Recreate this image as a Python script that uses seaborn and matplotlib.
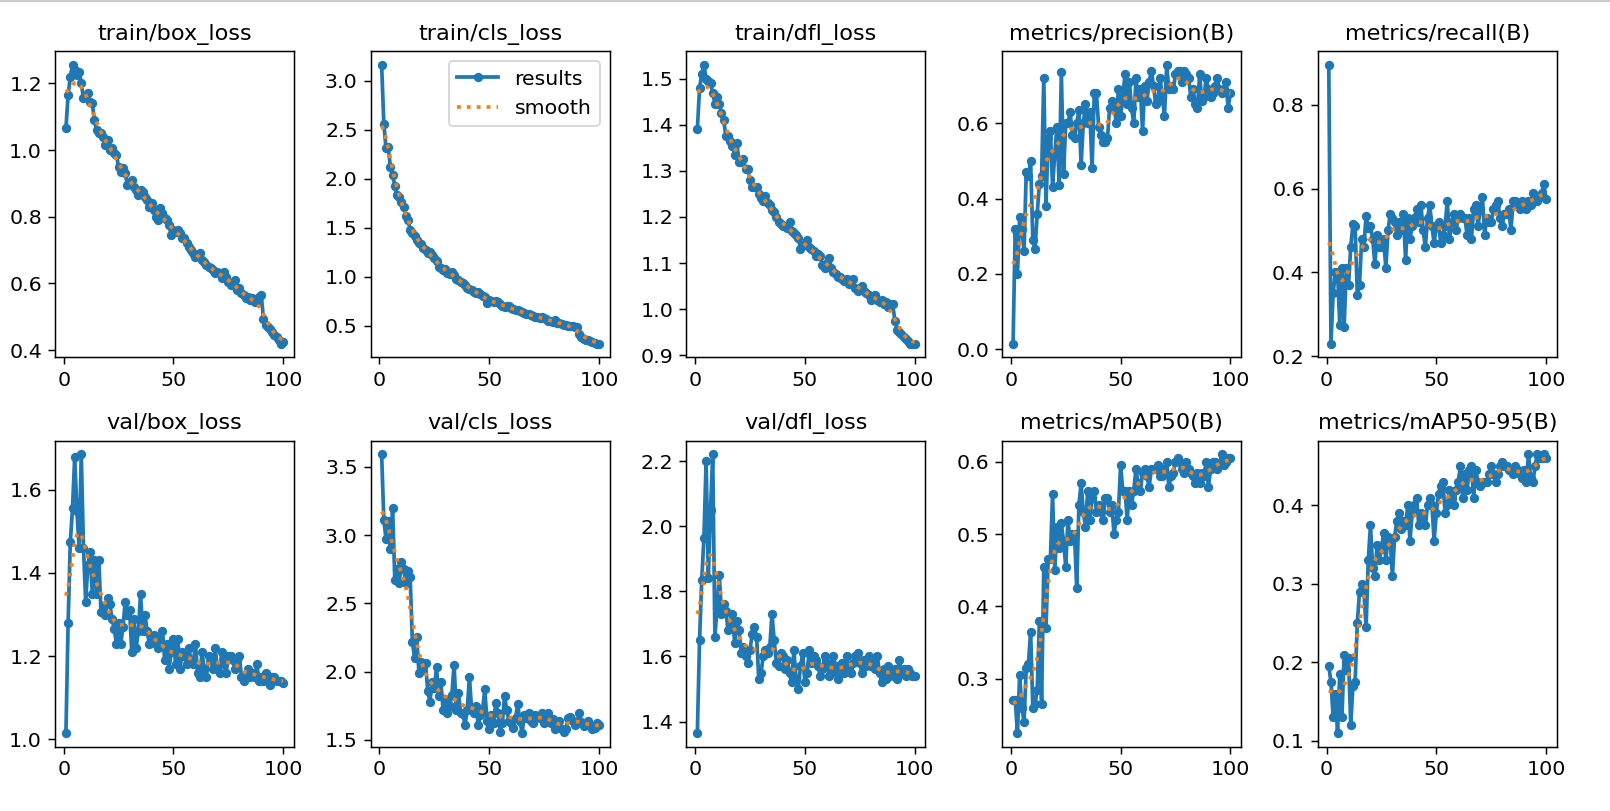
import numpy as np
import pandas as pd
import matplotlib
matplotlib.use("Agg")
import matplotlib.pyplot as plt
from matplotlib.lines import Line2D
import seaborn as sns

plt.rcParams["font.size"] = 11

epochs = list(range(1, 101))

titles = ["train/box_loss", "train/cls_loss", "train/dfl_loss", "metrics/precision(B)", "metrics/recall(B)",
          "val/box_loss", "val/cls_loss", "val/dfl_loss", "metrics/mAP50(B)", "metrics/mAP50-95(B)"]

train_box_loss = [
    1.065, 1.165, 1.22, 1.255, 1.24, 1.225, 1.235, 1.20, 1.155, 1.16,
    1.17, 1.145, 1.14, 1.09, 1.06, 1.05, 1.05, 1.04, 1.015, 1.03,
    1.00, 1.005, 0.99, 0.985, 0.95, 0.935, 0.945, 0.93, 0.895, 0.905,
    0.91, 0.89, 0.88, 0.865, 0.88, 0.875, 0.86, 0.85, 0.83, 0.84,
    0.82, 0.80, 0.79, 0.825, 0.81, 0.795, 0.79, 0.775, 0.745, 0.76,
    0.755, 0.76, 0.75, 0.735, 0.735, 0.72, 0.71, 0.70, 0.69, 0.68,
    0.685, 0.69, 0.67, 0.665, 0.655, 0.65, 0.645, 0.64, 0.63, 0.635,
    0.63, 0.615, 0.635, 0.62, 0.605, 0.595, 0.60, 0.61, 0.58, 0.585,
    0.57, 0.565, 0.555, 0.56, 0.55, 0.555, 0.545, 0.545, 0.56, 0.565,
    0.495, 0.475, 0.47, 0.465, 0.455, 0.445, 0.44, 0.43, 0.42, 0.425]

train_cls_loss = [
    3.16, 2.56, 2.31, 2.32, 2.12, 2.04, 1.93, 1.83, 1.81, 1.76,
    1.71, 1.62, 1.58, 1.48, 1.45, 1.42, 1.38, 1.34, 1.33, 1.29,
    1.27, 1.24, 1.25, 1.22, 1.19, 1.16, 1.10, 1.09, 1.07, 1.08,
    1.04, 1.03, 1.05, 1.02, 0.98, 0.97, 0.95, 0.94, 0.92, 0.89,
    0.88, 0.87, 0.85, 0.84, 0.85, 0.82, 0.80, 0.79, 0.73, 0.76,
    0.75, 0.74, 0.75, 0.74, 0.72, 0.70, 0.69, 0.70, 0.70, 0.68,
    0.67, 0.66, 0.66, 0.65, 0.64, 0.63, 0.62, 0.62, 0.61, 0.60,
    0.59, 0.59, 0.58, 0.59, 0.58, 0.57, 0.55, 0.55, 0.54, 0.56,
    0.53, 0.53, 0.52, 0.51, 0.51, 0.50, 0.50, 0.50, 0.49, 0.49,
    0.42, 0.39, 0.37, 0.36, 0.355, 0.35, 0.34, 0.33, 0.32, 0.32]

train_dfl_loss = [
    1.39, 1.48, 1.51, 1.53, 1.50, 1.495, 1.49, 1.47, 1.445, 1.46,
    1.445, 1.425, 1.41, 1.375, 1.375, 1.365, 1.355, 1.335, 1.36, 1.32,
    1.32, 1.325, 1.305, 1.305, 1.28, 1.265, 1.265, 1.265, 1.25, 1.24,
    1.235, 1.245, 1.23, 1.225, 1.215, 1.21, 1.20, 1.19, 1.185, 1.18,
    1.18, 1.175, 1.19, 1.17, 1.165, 1.16, 1.155, 1.13, 1.14, 1.14,
    1.15, 1.135, 1.13, 1.125, 1.115, 1.12, 1.115, 1.095, 1.09, 1.10,
    1.11, 1.09, 1.08, 1.075, 1.07, 1.07, 1.065, 1.06, 1.065, 1.055,
    1.06, 1.065, 1.045, 1.04, 1.045, 1.05, 1.04, 1.035, 1.03, 1.02,
    1.025, 1.03, 1.02, 1.015, 1.02, 1.01, 1.015, 1.005, 1.01, 1.01,
    0.975, 0.955, 0.95, 0.945, 0.94, 0.935, 0.93, 0.925, 0.925, 0.925]

precision = [
    0.015, 0.32, 0.20, 0.35, 0.32, 0.26, 0.47, 0.46, 0.50, 0.29,
    0.265, 0.36, 0.44, 0.46, 0.72, 0.38, 0.56, 0.58, 0.43, 0.52,
    0.59, 0.435, 0.735, 0.465, 0.60, 0.60, 0.63, 0.57, 0.56, 0.60,
    0.635, 0.49, 0.60, 0.65, 0.60, 0.63, 0.48, 0.68, 0.68, 0.59,
    0.57, 0.55, 0.55, 0.56, 0.64, 0.66, 0.65, 0.60, 0.69, 0.62,
    0.67, 0.73, 0.65, 0.71, 0.64, 0.60, 0.72, 0.67, 0.69, 0.58,
    0.70, 0.66, 0.71, 0.74, 0.70, 0.65, 0.66, 0.72, 0.67, 0.62,
    0.755, 0.69, 0.70, 0.69, 0.73, 0.74, 0.74, 0.71, 0.74, 0.73,
    0.72, 0.67, 0.69, 0.65, 0.64, 0.73, 0.66, 0.67, 0.72, 0.69,
    0.67, 0.68, 0.70, 0.72, 0.69, 0.68, 0.69, 0.71, 0.64, 0.68]

recall = [
    0.895, 0.23, 0.35, 0.40, 0.40, 0.275, 0.41, 0.27, 0.41, 0.37,
    0.46, 0.515, 0.51, 0.345, 0.37, 0.48, 0.46, 0.535, 0.505, 0.51,
    0.48, 0.42, 0.49, 0.46, 0.46, 0.48, 0.41, 0.50, 0.54, 0.53,
    0.52, 0.49, 0.52, 0.50, 0.54, 0.43, 0.53, 0.48, 0.51, 0.53,
    0.55, 0.52, 0.56, 0.50, 0.46, 0.53, 0.56, 0.51, 0.47, 0.51,
    0.52, 0.47, 0.49, 0.51, 0.57, 0.48, 0.52, 0.54, 0.50, 0.53,
    0.54, 0.53, 0.53, 0.49, 0.53, 0.48, 0.55, 0.56, 0.51, 0.55,
    0.58, 0.49, 0.53, 0.52, 0.52, 0.55, 0.56, 0.57, 0.53, 0.51,
    0.54, 0.54, 0.55, 0.50, 0.57, 0.57, 0.56, 0.55, 0.57, 0.56,
    0.55, 0.57, 0.56, 0.59, 0.58, 0.57, 0.58, 0.59, 0.61, 0.575]

val_box_loss = [
    1.015, 1.28, 1.475, 1.555, 1.68, 1.55, 1.46, 1.685, 1.46, 1.33,
    1.42, 1.45, 1.35, 1.43, 1.35, 1.43, 1.305, 1.32, 1.30, 1.34,
    1.325, 1.29, 1.265, 1.23, 1.28, 1.23, 1.27, 1.33, 1.30, 1.31,
    1.21, 1.29, 1.22, 1.26, 1.35, 1.26, 1.30, 1.26, 1.23, 1.24,
    1.25, 1.23, 1.22, 1.24, 1.26, 1.19, 1.23, 1.17, 1.21, 1.24,
    1.18, 1.24, 1.17, 1.21, 1.20, 1.18, 1.22, 1.19, 1.18, 1.23,
    1.16, 1.15, 1.21, 1.17, 1.15, 1.20, 1.19, 1.17, 1.22, 1.17,
    1.16, 1.21, 1.18, 1.16, 1.20, 1.20, 1.19, 1.17, 1.19, 1.20,
    1.15, 1.14, 1.15, 1.17, 1.15, 1.16, 1.15, 1.18, 1.14, 1.15,
    1.14, 1.16, 1.15, 1.13, 1.15, 1.15, 1.14, 1.14, 1.14, 1.135]

val_cls_loss = [
    3.59, 3.11, 2.97, 3.10, 2.90, 3.20, 2.67, 2.75, 2.65, 2.80,
    2.75, 2.65, 2.74, 2.69, 2.22, 2.10, 2.25, 1.99, 2.07, 2.01,
    2.06, 1.86, 1.78, 1.92, 1.88, 2.03, 1.82, 1.92, 1.72, 1.80,
    1.70, 1.75, 1.83, 2.05, 1.72, 1.84, 1.70, 1.69, 1.61, 1.72,
    1.96, 1.72, 1.70, 1.75, 1.61, 1.68, 1.72, 1.87, 1.64, 1.58,
    1.68, 1.62, 1.77, 1.70, 1.56, 1.62, 1.82, 1.72, 1.64, 1.62,
    1.59, 1.66, 1.76, 1.64, 1.55, 1.68, 1.66, 1.70, 1.64, 1.62,
    1.68, 1.67, 1.66, 1.70, 1.62, 1.68, 1.70, 1.62, 1.65, 1.58,
    1.62, 1.64, 1.58, 1.56, 1.58, 1.66, 1.67, 1.64, 1.61, 1.62,
    1.70, 1.63, 1.60, 1.61, 1.64, 1.60, 1.58, 1.59, 1.62, 1.61]

val_dfl_loss = [
    1.365, 1.65, 1.835, 1.965, 2.20, 1.84, 2.05, 2.22, 1.66, 1.75,
    1.85, 1.73, 1.76, 1.74, 1.68, 1.70, 1.73, 1.64, 1.71, 1.68,
    1.61, 1.63, 1.60, 1.58, 1.62, 1.67, 1.69, 1.66, 1.53, 1.55,
    1.60, 1.62, 1.61, 1.63, 1.73, 1.65, 1.58, 1.57, 1.61, 1.60,
    1.56, 1.59, 1.55, 1.52, 1.62, 1.53, 1.50, 1.57, 1.61, 1.52,
    1.55, 1.62, 1.58, 1.60, 1.59, 1.57, 1.54, 1.56, 1.60, 1.58,
    1.54, 1.55, 1.60, 1.57, 1.53, 1.56, 1.58, 1.55, 1.60, 1.56,
    1.55, 1.58, 1.60, 1.61, 1.58, 1.55, 1.59, 1.57, 1.60, 1.57,
    1.58, 1.56, 1.60, 1.55, 1.52, 1.56, 1.53, 1.57, 1.54, 1.55,
    1.56, 1.53, 1.59, 1.55, 1.56, 1.54, 1.56, 1.55, 1.54, 1.54]

map50 = [
    0.27, 0.27, 0.225, 0.305, 0.26, 0.24, 0.315, 0.32, 0.365, 0.26,
    0.265, 0.285, 0.38, 0.265, 0.455, 0.37, 0.465, 0.465, 0.555, 0.45,
    0.51, 0.48, 0.515, 0.49, 0.455, 0.52, 0.49, 0.50, 0.50, 0.425,
    0.54, 0.57, 0.53, 0.51, 0.56, 0.52, 0.55, 0.56, 0.53, 0.54,
    0.53, 0.52, 0.55, 0.55, 0.53, 0.54, 0.50, 0.52, 0.53, 0.595,
    0.56, 0.56, 0.52, 0.56, 0.54, 0.56, 0.59, 0.57, 0.56, 0.585,
    0.59, 0.58, 0.565, 0.59, 0.59, 0.59, 0.595, 0.58, 0.58, 0.59,
    0.60, 0.565, 0.58, 0.585, 0.60, 0.605, 0.60, 0.59, 0.585, 0.60,
    0.59, 0.585, 0.58, 0.57, 0.585, 0.57, 0.585, 0.58, 0.60, 0.565,
    0.59, 0.60, 0.60, 0.59, 0.595, 0.61, 0.595, 0.60, 0.605, 0.605]

map50_95 = [
    0.195, 0.175, 0.13, 0.16, 0.11, 0.185, 0.13, 0.21, 0.19, 0.205,
    0.12, 0.17, 0.175, 0.25, 0.29, 0.30, 0.29, 0.245, 0.33, 0.375,
    0.32, 0.31, 0.35, 0.33, 0.345, 0.365, 0.33, 0.36, 0.355, 0.31,
    0.36, 0.38, 0.39, 0.37, 0.38, 0.375, 0.40, 0.355, 0.39, 0.40,
    0.41, 0.375, 0.39, 0.385, 0.375, 0.40, 0.41, 0.40, 0.355, 0.39,
    0.415, 0.425, 0.43, 0.39, 0.40, 0.42, 0.41, 0.40, 0.42, 0.43,
    0.45, 0.41, 0.44, 0.42, 0.445, 0.45, 0.41, 0.445, 0.43, 0.425,
    0.43, 0.43, 0.43, 0.44, 0.45, 0.44, 0.43, 0.44, 0.45, 0.455,
    0.45, 0.45, 0.445, 0.445, 0.44, 0.45, 0.445, 0.44, 0.435, 0.445,
    0.43, 0.465, 0.435, 0.43, 0.45, 0.465, 0.46, 0.46, 0.465, 0.46]

series = [train_box_loss, train_cls_loss, train_dfl_loss, precision, recall,
          val_box_loss, val_cls_loss, val_dfl_loss, map50, map50_95]


def gaussian_smooth(y, sigma=3):
    # same as scipy gaussian_filter1d with mode='reflect'
    radius = int(4 * sigma + 0.5)
    k = np.arange(-radius, radius + 1)
    w = np.exp(-0.5 * (k / sigma) ** 2)
    w /= w.sum()
    padded = np.pad(np.asarray(y, dtype=float), radius, mode="symmetric")
    return np.convolve(padded, w, mode="valid")


fig, axes = plt.subplots(2, 5, figsize=(12, 6.045), dpi=134.17)
fig.subplots_adjust(left=0.0342, right=0.967, top=0.937, bottom=0.079, wspace=0.321, hspace=0.271)
axes = axes.ravel()

for i, (title, y) in enumerate(zip(titles, series)):
    ax = axes[i]
    df = pd.DataFrame({"epoch": epochs, "value": y})
    df["smooth"] = gaussian_smooth(df["value"])
    sns.lineplot(data=df, x="epoch", y="value", ax=ax, marker=".", markersize=8, linewidth=2,
                 color="#1f77b4", markeredgecolor="#1f77b4", markeredgewidth=1,
                 label="results", legend=False)
    sns.lineplot(data=df, x="epoch", y="smooth", ax=ax, linestyle=":", linewidth=2,
                 color="#ff7f0e", label="smooth", legend=False)
    ax.set_title(title, fontsize=12)
    ax.set_xlabel("")
    ax.set_ylabel("")

axes[1].legend()

# thin grey rule along the top edge
fig.add_artist(Line2D([0, 1], [0.999, 0.999], transform=fig.transFigure, color="#cccccc", linewidth=1.2))

fig.savefig("out.png")
